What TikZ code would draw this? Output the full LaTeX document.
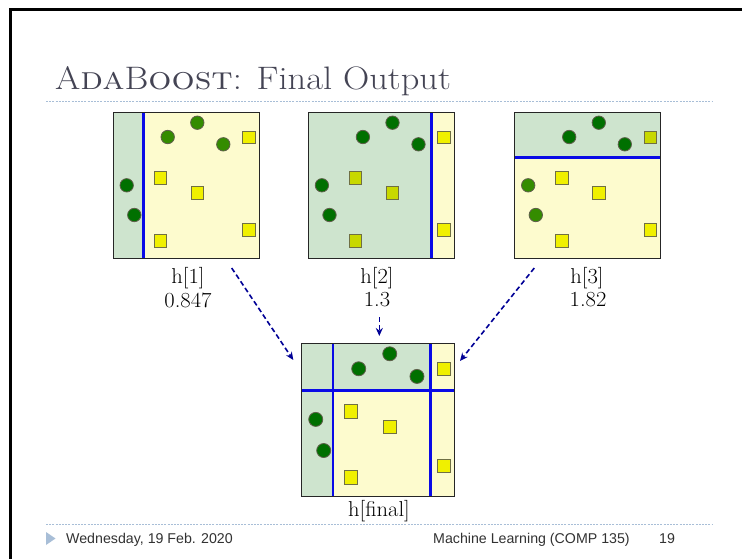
\documentclass[tikz,border=0pt]{standalone}
\usepackage{fontspec}
\newfontfamily\footfont{Liberation Sans}
\usetikzlibrary{arrows.meta}
\definecolor{gfill}{RGB}{206,228,206}
\definecolor{yfill}{RGB}{253,251,206}
\definecolor{bline}{RGB}{10,10,230}
\definecolor{cdark}{RGB}{0,112,0}
\definecolor{clight}{RGB}{52,140,0}
\definecolor{sqy}{RGB}{240,240,0}
\definecolor{sqg}{RGB}{200,216,0}
\definecolor{ptb}{RGB}{95,95,75}
\definecolor{arr}{RGB}{0,0,150}
\definecolor{titlec}{RGB}{68,68,84}
\definecolor{dotc}{RGB}{168,190,215}
\definecolor{footc}{RGB}{50,50,50}
\tikzset{
  gz/.style={fill=gfill},
  yz/.style={fill=yfill},
  splitline/.style={draw=bline,line width=2.6pt},
  boxborder/.style={draw=black!85,line width=1.3pt},
  cd/.style={fill=cdark,draw=ptb,line width=0.8pt},
  cl/.style={fill=clight,draw=ptb,line width=0.8pt},
  sy/.style={fill=sqy,draw=ptb!90!yellow,line width=0.9pt},
  sg/.style={fill=sqg,draw=ptb!90!yellow,line width=0.9pt},
  lbl/.style={font=\fontsize{21.5}{24}\selectfont,text=black,inner sep=0pt,xscale=1.05,transform shape},
  dasharrow/.style={draw=arr,line width=1.6pt,dash pattern=on 5pt off 3pt,-{Stealth[length=8pt,width=7pt]}},
  dotline/.style={draw=dotc,line width=0.9pt,dash pattern=on 2pt off 1.2pt},
  foot/.style={font=\footfont\fontsize{14.2}{16}\selectfont,text=footc,inner sep=0pt,anchor=base west},
}
\newcommand\pt[3]{\path[#3] (#1,#2) circle (6.7);}
\newcommand\sqr[3]{\path[#3] (#1-6.3,#2-6.3) rectangle ++(12.6,12.6);}
\begin{document}
\begin{tikzpicture}[x=1pt,y=-1pt]
\useasboundingbox (0,0) rectangle (742,558);
\fill[white] (0,0) rectangle (742,558);
% slide frame
\draw[black,line width=3pt] (10,560) -- (10,9.5) -- (744,9.5);
% title
\node[anchor=base west,inner sep=0pt,text=titlec,font=\fontsize{32.5}{36}\selectfont,xscale=1.12,transform shape] (title) at (55,89.5) {A\textsc{da}B\textsc{oost}: Final Output};
\draw[dotline] (46,101) -- (713,101);
% box 1
\begin{scope}[shift={(113.3,112.7)}]
\fill[gz] (0,0) rectangle (30,146);
\fill[yz] (30,0) rectangle (146,146);
\pt{54.4}{24.3}{cl}\pt{84}{10}{cl}\pt{110}{31.6}{cl}\pt{13.4}{72.6}{cd}\pt{21}{102.3}{cd}
\sqr{135.7}{24.6}{sy}\sqr{47}{65}{sy}\sqr{84}{80}{sy}\sqr{135.7}{117}{sy}\sqr{47}{128}{sy}
\draw[splitline] (30,0) -- (30,146);
\draw[boxborder] (0,0) rectangle (146,146);
\end{scope}
% box 2
\begin{scope}[shift={(308.5,112.7)}]
\fill[gz] (0,0) rectangle (122.7,146);
\fill[yz] (122.7,0) rectangle (146,146);
\pt{54.4}{24.3}{cd}\pt{84}{10}{cd}\pt{110}{31.6}{cd}\pt{13.4}{72.6}{cd}\pt{21}{102.3}{cd}
\sqr{135.7}{24.6}{sy}\sqr{47}{65}{sg}\sqr{84}{80}{sg}\sqr{135.7}{117}{sy}\sqr{47}{128}{sg}
\draw[splitline] (122.7,0) -- (122.7,146);
\draw[boxborder] (0,0) rectangle (146,146);
\end{scope}
% box 3
\begin{scope}[shift={(514.8,112.7)}]
\fill[gz] (0,0) rectangle (146,45);
\fill[yz] (0,45) rectangle (146,146);
\pt{54.4}{24.3}{cd}\pt{84}{10}{cd}\pt{110}{31.6}{cd}\pt{13.4}{72.6}{cl}\pt{21}{102.3}{cl}
\sqr{135.7}{24.6}{sg}\sqr{47}{65}{sy}\sqr{84}{80}{sy}\sqr{135.7}{117}{sy}\sqr{47}{128}{sy}
\draw[splitline] (0,45) -- (146,45);
\draw[boxborder] (0,0) rectangle (146,146);
\end{scope}
% final box
\begin{scope}[shift={(301.7,343.3)},scale=1.048]
\fill[gz] (0,0) rectangle (122.7,45);
\fill[yz] (122.7,0) rectangle (146,45);
\fill[gz] (0,45) rectangle (30,146);
\fill[yz] (30,45) rectangle (146,146);
\pt{54.4}{24.3}{cd}\pt{84}{10}{cd}\pt{110}{31.6}{cd}\pt{13.4}{72.6}{cd}\pt{21}{102.3}{cd}
\sqr{135.7}{24.6}{sy}\sqr{47}{65}{sy}\sqr{84}{80}{sy}\sqr{135.7}{117}{sy}\sqr{47}{128}{sy}
\draw[splitline] (30,0) -- (30,146);
\draw[splitline] (122.7,0) -- (122.7,146);
\draw[splitline] (0,45) -- (146,45);
\draw[boxborder] (0,0) rectangle (146,146);
\end{scope}
% labels
\node[lbl] (h1) at (188,278) {h[1]};
\node[lbl] (w1) at (188,300) {0.847};
\node[lbl] (h2) at (377,278) {h[2]};
\node[lbl] (w2) at (377,300) {1.3};
\node[lbl] (h3) at (587,278) {h[3]};
\node[lbl] (w3) at (588,300) {1.82};
\node[lbl] (hf) at (379,511) {h[final]};
% arrows
\coordinate (a1s) at (231.7,268);
\coordinate (a1e) at (293.3,360);
\coordinate (a2s) at (379.3,317);
\coordinate (a2e) at (379.3,336);
\coordinate (a3s) at (534.3,268);
\coordinate (a3e) at (460,361);
\draw[dasharrow] (a1s) -- (a1e);
\draw[dasharrow] (a2s) -- (a2e);
\draw[dasharrow] (a3s) -- (a3e);
% footer
\draw[dotline] (46,524) -- (713,524);
\fill[dotc] (46,532) -- (46,545) -- (55.5,538.5) -- cycle;
\node[foot] (date) at (66,543) {Wednesday, 19 Feb. 2020};
\node[foot] (course) at (433,543) {Machine Learning (COMP 135)};
\node[foot] (page) at (659,543) {19};
\end{tikzpicture}
\end{document}
